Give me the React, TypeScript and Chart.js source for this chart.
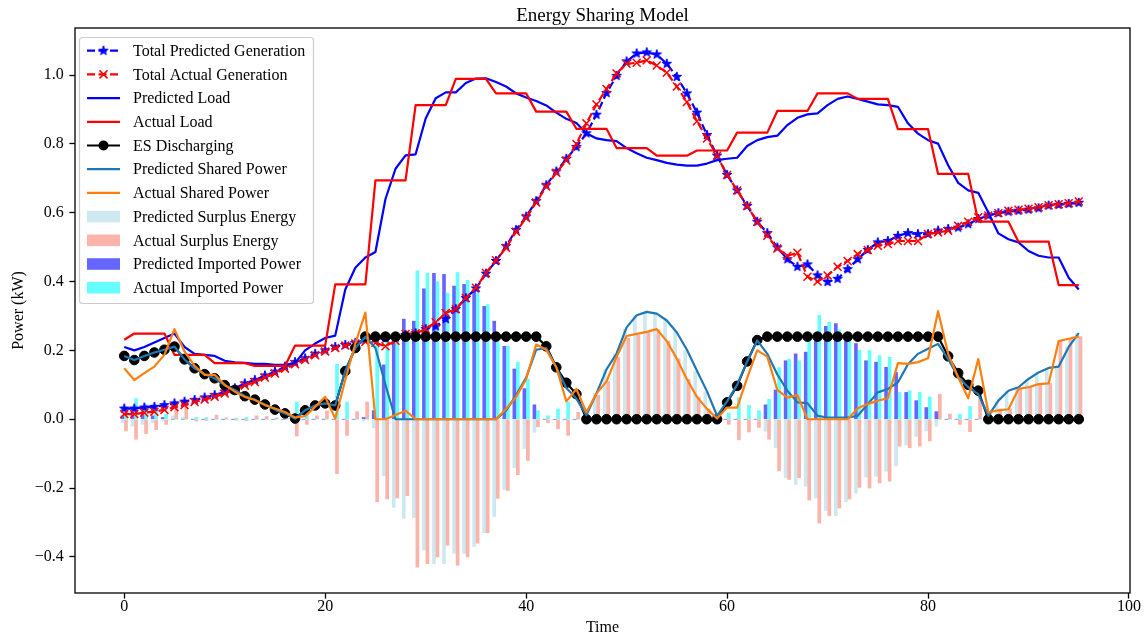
import React, { useEffect, useRef } from 'react';
import { Chart, registerables } from 'chart.js';

Chart.register(...registerables);

// ---- data -------------------------------------------------------------
const timeSteps = [
  0, 1, 2, 3, 4, 5, 6, 7, 8, 9, 10, 11, 12, 13, 14, 15, 16, 17, 18, 19, 20, 21, 22, 23,
  24, 25, 26, 27, 28, 29, 30, 31, 32, 33, 34, 35, 36, 37, 38, 39, 40, 41, 42, 43, 44, 45, 46, 47,
  48, 49, 50, 51, 52, 53, 54, 55, 56, 57, 58, 59, 60, 61, 62, 63, 64, 65, 66, 67, 68, 69, 70, 71,
  72, 73, 74, 75, 76, 77, 78, 79, 80, 81, 82, 83, 84, 85, 86, 87, 88, 89, 90, 91, 92, 93, 94, 95,
];

const totalPredictedGeneration = [
  0.031, 0.031, 0.034, 0.036, 0.041, 0.046, 0.051, 0.056, 0.063, 0.070, 0.080, 0.090,
  0.104, 0.114, 0.127, 0.138, 0.153, 0.166, 0.177, 0.190, 0.200, 0.210, 0.216, 0.222,
  0.231, 0.235, 0.235, 0.238, 0.245, 0.250, 0.262, 0.270, 0.291, 0.320, 0.352, 0.380,
  0.423, 0.460, 0.503, 0.550, 0.589, 0.634, 0.680, 0.720, 0.757, 0.791, 0.831, 0.885,
  0.948, 0.998, 1.040, 1.063, 1.066, 1.060, 1.033, 0.995, 0.947, 0.891, 0.826, 0.766,
  0.710, 0.665, 0.620, 0.574, 0.541, 0.499, 0.465, 0.443, 0.450, 0.418, 0.399, 0.408,
  0.436, 0.465, 0.492, 0.514, 0.518, 0.533, 0.541, 0.538, 0.538, 0.548, 0.553, 0.557,
  0.567, 0.582, 0.592, 0.599, 0.603, 0.606, 0.609, 0.613, 0.621, 0.623, 0.626, 0.629,
];

const totalActualGeneration = [
  0.015, 0.015, 0.019, 0.022, 0.027, 0.035, 0.041, 0.050, 0.057, 0.065, 0.075, 0.085,
  0.098, 0.108, 0.121, 0.133, 0.147, 0.160, 0.172, 0.186, 0.197, 0.207, 0.214, 0.220,
  0.225, 0.222, 0.212, 0.228, 0.248, 0.250, 0.262, 0.282, 0.309, 0.320, 0.352, 0.382,
  0.425, 0.462, 0.498, 0.545, 0.585, 0.630, 0.676, 0.716, 0.752, 0.800, 0.860, 0.915,
  0.960, 1.005, 1.033, 1.036, 1.043, 1.028, 1.007, 0.967, 0.922, 0.866, 0.816, 0.766,
  0.710, 0.665, 0.620, 0.574, 0.533, 0.496, 0.475, 0.484, 0.414, 0.400, 0.418, 0.443,
  0.460, 0.480, 0.492, 0.504, 0.509, 0.518, 0.518, 0.518, 0.538, 0.543, 0.548, 0.562,
  0.574, 0.587, 0.592, 0.599, 0.606, 0.609, 0.612, 0.616, 0.622, 0.625, 0.628, 0.633,
];

const predictedLoad = [
  0.210, 0.200, 0.210, 0.223, 0.236, 0.249, 0.210, 0.190, 0.187, 0.184, 0.170, 0.165,
  0.164, 0.161, 0.161, 0.158, 0.158, 0.163, 0.200, 0.220, 0.236, 0.243, 0.377, 0.440,
  0.470, 0.486, 0.640, 0.728, 0.767, 0.770, 0.874, 0.933, 0.950, 0.950, 0.977, 0.990,
  0.991, 0.980, 0.967, 0.947, 0.935, 0.925, 0.912, 0.891, 0.873, 0.861, 0.831, 0.816,
  0.811, 0.808, 0.788, 0.773, 0.760, 0.753, 0.745, 0.740, 0.737, 0.737, 0.743, 0.753,
  0.757, 0.760, 0.794, 0.811, 0.820, 0.824, 0.855, 0.876, 0.886, 0.889, 0.913, 0.931,
  0.938, 0.931, 0.923, 0.915, 0.913, 0.908, 0.860, 0.830, 0.811, 0.801, 0.738, 0.687,
  0.665, 0.658, 0.601, 0.540, 0.523, 0.514, 0.489, 0.475, 0.470, 0.470, 0.411, 0.377,
];

const actualLoad = [
  0.231, 0.249, 0.249, 0.249, 0.249, 0.187, 0.187, 0.187, 0.187, 0.163, 0.163, 0.163,
  0.163, 0.155, 0.155, 0.155, 0.155, 0.214, 0.214, 0.214, 0.214, 0.392, 0.392, 0.392,
  0.392, 0.694, 0.694, 0.694, 0.694, 0.913, 0.913, 0.913, 0.913, 0.989, 0.989, 0.989,
  0.989, 0.947, 0.947, 0.947, 0.947, 0.894, 0.894, 0.894, 0.894, 0.844, 0.844, 0.844,
  0.844, 0.788, 0.788, 0.788, 0.788, 0.766, 0.766, 0.766, 0.766, 0.781, 0.781, 0.781,
  0.781, 0.833, 0.833, 0.833, 0.833, 0.896, 0.896, 0.896, 0.896, 0.947, 0.947, 0.947,
  0.947, 0.931, 0.931, 0.931, 0.931, 0.843, 0.843, 0.843, 0.843, 0.713, 0.713, 0.713,
  0.713, 0.574, 0.574, 0.574, 0.574, 0.516, 0.516, 0.516, 0.516, 0.390, 0.390, 0.390,
];

const esDischarging = [
  0.184, 0.172, 0.184, 0.194, 0.202, 0.211, 0.174, 0.148, 0.131, 0.119, 0.099, 0.085,
  0.067, 0.057, 0.043, 0.028, 0.017, 0.002, 0.026, 0.040, 0.046, 0.040, 0.140, 0.207,
  0.240, 0.240, 0.240, 0.240, 0.240, 0.240, 0.240, 0.240, 0.240, 0.240, 0.240, 0.240,
  0.240, 0.240, 0.240, 0.240, 0.240, 0.240, 0.212, 0.151, 0.106, 0.073, 0.000, 0.000,
  0.000, 0.000, 0.000, 0.000, 0.000, 0.000, 0.000, 0.000, 0.000, 0.000, 0.000, 0.000,
  0.049, 0.097, 0.168, 0.230, 0.240, 0.240, 0.240, 0.240, 0.240, 0.240, 0.240, 0.240,
  0.240, 0.240, 0.240, 0.240, 0.240, 0.240, 0.240, 0.240, 0.240, 0.240, 0.183, 0.134,
  0.100, 0.083, 0.000, 0.000, 0.000, 0.000, 0.000, 0.000, 0.000, 0.000, 0.000, 0.000,
];

const predictedSharedPower = [
  0.184, 0.172, 0.184, 0.194, 0.202, 0.211, 0.174, 0.148, 0.131, 0.119, 0.099, 0.085,
  0.067, 0.057, 0.043, 0.028, 0.017, 0.002, 0.026, 0.040, 0.046, 0.040, 0.140, 0.207,
  0.240, 0.207, 0.100, 0.000, 0.000, 0.000, 0.000, 0.000, 0.000, 0.000, 0.000, 0.000,
  0.000, 0.000, 0.025, 0.070, 0.121, 0.202, 0.207, 0.151, 0.091, 0.060, 0.012, 0.075,
  0.145, 0.191, 0.267, 0.302, 0.312, 0.307, 0.287, 0.252, 0.202, 0.141, 0.081, 0.010,
  0.052, 0.100, 0.168, 0.229, 0.190, 0.130, 0.083, 0.049, 0.047, 0.010, 0.005, 0.005,
  0.005, 0.010, 0.044, 0.078, 0.088, 0.107, 0.160, 0.190, 0.205, 0.219, 0.175, 0.122,
  0.093, 0.073, 0.010, 0.054, 0.083, 0.093, 0.117, 0.136, 0.149, 0.153, 0.210, 0.250,
];

const actualSharedPower = [
  0.148, 0.114, 0.134, 0.153, 0.187, 0.262, 0.197, 0.155, 0.129, 0.129, 0.100, 0.080,
  0.065, 0.056, 0.041, 0.031, 0.021, 0.005, 0.009, 0.036, 0.065, 0.002, 0.114, 0.220,
  0.310, 0.000, 0.000, 0.012, 0.025, 0.000, 0.000, 0.000, 0.000, 0.000, 0.000, 0.000,
  0.000, 0.000, 0.030, 0.065, 0.116, 0.217, 0.202, 0.151, 0.052, 0.088, 0.020, 0.075,
  0.110, 0.181, 0.242, 0.248, 0.254, 0.262, 0.227, 0.176, 0.116, 0.065, 0.030, 0.002,
  0.034, 0.034, 0.120, 0.200, 0.182, 0.085, 0.063, 0.070, 0.000, 0.000, 0.000, 0.000,
  0.000, 0.032, 0.044, 0.054, 0.061, 0.163, 0.161, 0.166, 0.177, 0.314, 0.190, 0.122,
  0.061, 0.175, 0.020, 0.026, 0.029, 0.088, 0.093, 0.102, 0.104, 0.227, 0.234, 0.240,
];

const predictedSurplusEnergy = [
  -0.010, -0.020, -0.015, -0.010, -0.005, 0.010, 0.005, 0.000, 0.000, 0.000, 0.000, 0.000,
  0.000, 0.000, 0.000, 0.000, 0.000, -0.005, 0.000, 0.000, 0.000, 0.000, 0.000, 0.000,
  -0.005, -0.025, -0.164, -0.256, -0.288, -0.286, -0.380, -0.420, -0.420, -0.390, -0.390, -0.370,
  -0.330, -0.283, -0.205, -0.141, -0.085, -0.038, 0.000, 0.000, 0.000, 0.000, 0.010, 0.075,
  0.145, 0.190, 0.262, 0.300, 0.310, 0.305, 0.287, 0.252, 0.200, 0.140, 0.080, 0.010,
  0.000, 0.000, 0.000, 0.000, -0.035, -0.083, -0.170, -0.190, -0.195, -0.229, -0.265, -0.280,
  -0.240, -0.215, -0.168, -0.166, -0.151, -0.136, -0.075, -0.050, -0.034, -0.020, 0.000, 0.000,
  0.000, 0.000, 0.040, 0.050, 0.080, 0.090, 0.115, 0.135, 0.148, 0.153, 0.210, 0.250,
];

const actualSurplusEnergy = [
  -0.034, -0.058, -0.042, -0.030, -0.015, 0.050, 0.035, -0.005, -0.004, 0.012, 0.004, -0.003,
  -0.004, 0.010, 0.008, 0.004, 0.003, -0.049, -0.015, 0.010, 0.024, -0.158, -0.047, 0.022,
  0.050, -0.240, -0.232, -0.229, -0.222, -0.430, -0.420, -0.400, -0.366, -0.424, -0.400, -0.360,
  -0.330, -0.230, -0.207, -0.161, -0.120, -0.022, -0.010, -0.028, -0.047, 0.020, 0.000, 0.070,
  0.110, 0.180, 0.235, 0.245, 0.252, 0.260, 0.227, 0.176, 0.116, 0.065, 0.030, 0.000,
  -0.015, -0.060, -0.037, -0.024, -0.058, -0.150, -0.175, -0.170, -0.235, -0.302, -0.280, -0.258,
  -0.232, -0.198, -0.200, -0.185, -0.180, -0.078, -0.083, -0.078, -0.063, 0.073, 0.015, -0.015,
  -0.036, 0.070, 0.020, 0.030, 0.030, 0.088, 0.093, 0.100, 0.104, 0.227, 0.234, 0.240,
];

const predictedImportedPower = [
  0.010, 0.020, 0.015, 0.010, 0.005, 0.000, 0.000, 0.000, 0.000, 0.000, 0.000, 0.000,
  0.000, 0.000, 0.000, 0.000, 0.000, 0.005, 0.000, 0.000, 0.000, 0.000, 0.000, 0.000,
  0.005, 0.025, 0.158, 0.250, 0.291, 0.285, 0.379, 0.424, 0.421, 0.387, 0.392, 0.377,
  0.328, 0.285, 0.212, 0.146, 0.089, 0.042, 0.000, 0.000, 0.000, 0.000, 0.000, 0.000,
  0.000, 0.000, 0.000, 0.000, 0.000, 0.000, 0.000, 0.000, 0.000, 0.000, 0.000, 0.000,
  0.000, 0.000, 0.000, 0.000, 0.042, 0.085, 0.170, 0.190, 0.195, 0.230, 0.270, 0.278,
  0.245, 0.220, 0.170, 0.166, 0.151, 0.136, 0.078, 0.054, 0.034, 0.022, 0.000, 0.000,
  0.000, 0.000, 0.000, 0.000, 0.000, 0.000, 0.000, 0.000, 0.000, 0.000, 0.000, 0.000,
];

const actualImportedPower = [
  0.034, 0.060, 0.042, 0.030, 0.015, 0.000, 0.000, 0.005, 0.005, 0.000, 0.000, 0.003,
  0.005, 0.000, 0.000, 0.000, 0.000, 0.050, 0.015, 0.000, 0.000, 0.160, 0.050, 0.000,
  0.000, 0.240, 0.232, 0.229, 0.236, 0.431, 0.424, 0.400, 0.367, 0.426, 0.404, 0.365,
  0.333, 0.225, 0.212, 0.166, 0.116, 0.025, 0.010, 0.030, 0.050, 0.000, 0.000, 0.000,
  0.000, 0.000, 0.000, 0.000, 0.000, 0.000, 0.000, 0.000, 0.000, 0.000, 0.000, 0.000,
  0.018, 0.063, 0.040, 0.025, 0.058, 0.150, 0.175, 0.170, 0.235, 0.302, 0.282, 0.260,
  0.235, 0.200, 0.200, 0.185, 0.180, 0.078, 0.083, 0.078, 0.065, 0.000, 0.000, 0.015,
  0.037, 0.000, 0.000, 0.000, 0.000, 0.000, 0.000, 0.000, 0.000, 0.000, 0.000, 0.000,
];

const xTickValues = [0, 20, 40, 60, 80, 100];
const yTickValues = [-0.4, -0.2, 0.0, 0.2, 0.4, 0.6, 0.8, 1.0];

// ---- styling ----------------------------------------------------------
const FONT = '"Liberation Serif", "Times New Roman", Times, serif';
const WIDTH = 1146;
const HEIGHT = 637;
const LINE_W = 2.2;
const DASH = [8, 3.5];
const BAR_SHIFT = 0.175; // predicted bars sit left of the step, actual bars right
const BAR_PX = 3;

const C_BLUE = '#0000ff';
const C_RED = '#ff0000';
const C_TAB_BLUE = '#1f77b4';
const C_TAB_ORANGE = '#ff7f0e';
const C_PRED_SURPLUS = 'rgba(173,216,230,0.6)';
const C_ACT_SURPLUS = 'rgba(250,128,114,0.6)';
const C_PRED_IMPORT = 'rgba(0,0,255,0.6)';
const C_ACT_IMPORT = 'rgba(0,255,255,0.6)';

function makeStarMarker(color: string): HTMLCanvasElement {
  const size = 14;
  const c = document.createElement('canvas');
  c.width = size;
  c.height = size;
  const g = c.getContext('2d')!;
  const cx = size / 2;
  const cy = size / 2;
  const outer = 5;
  const inner = outer * 0.381966;
  g.beginPath();
  for (let i = 0; i < 10; i++) {
    const a = -Math.PI / 2 + (i * Math.PI) / 5;
    const r = i % 2 === 0 ? outer : inner;
    const px = cx + r * Math.cos(a);
    const py = cy + r * Math.sin(a);
    if (i === 0) g.moveTo(px, py);
    else g.lineTo(px, py);
  }
  g.closePath();
  g.fillStyle = color;
  g.fill();
  g.lineWidth = 1;
  g.strokeStyle = color;
  g.stroke();
  return c;
}

type LegendRow = {
  label: string;
  kind: 'line' | 'patch';
  color: string;
  dashed?: boolean;
  marker?: 'star' | 'x' | 'dot';
};

const legendRows: LegendRow[] = [
  { label: 'Total Predicted Generation', kind: 'line', color: C_BLUE, dashed: true, marker: 'star' },
  { label: 'Total Actual Generation', kind: 'line', color: C_RED, dashed: true, marker: 'x' },
  { label: 'Predicted Load', kind: 'line', color: C_BLUE },
  { label: 'Actual Load', kind: 'line', color: C_RED },
  { label: 'ES Discharging', kind: 'line', color: '#000000', marker: 'dot' },
  { label: 'Predicted Shared Power', kind: 'line', color: C_TAB_BLUE },
  { label: 'Actual Shared Power', kind: 'line', color: C_TAB_ORANGE },
  { label: 'Predicted Surplus Energy', kind: 'patch', color: C_PRED_SURPLUS },
  { label: 'Actual Surplus Energy', kind: 'patch', color: C_ACT_SURPLUS },
  { label: 'Predicted Imported Power', kind: 'patch', color: C_PRED_IMPORT },
  { label: 'Actual Imported Power', kind: 'patch', color: C_ACT_IMPORT },
];

const formatY = (v: number) => {
  const s = Math.abs(v).toFixed(1);
  return v < -1e-9 ? '\u2212' + s : s;
};

export default function App() {
  const canvasRef = useRef<HTMLCanvasElement>(null);

  useEffect(() => {
    const canvas = canvasRef.current;
    if (!canvas) return;
    const star = makeStarMarker(C_BLUE);

    const pts = (ys: number[], dx = 0) => timeSteps.map((t, i) => ({ x: t + dx, y: ys[i] }));

    const lineDs = (label: string, ys: number[], color: string, order: number, extra: any = {}) => ({
      type: 'line' as const,
      label,
      data: pts(ys),
      borderColor: color,
      backgroundColor: color,
      borderWidth: LINE_W,
      borderJoinStyle: 'round' as const,
      pointRadius: 0,
      tension: 0,
      fill: false,
      order,
      ...extra,
    });

    const barDs = (label: string, ys: number[], color: string, dx: number, order: number) => ({
      type: 'bar' as const,
      label,
      data: pts(ys, dx),
      backgroundColor: color,
      borderWidth: 0,
      barThickness: BAR_PX,
      grouped: false,
      order,
    });

    const decor = {
      id: 'decor',
      afterDatasetsDraw(chart: any) {
        const { ctx, chartArea: a } = chart;
        ctx.save();
        ctx.strokeStyle = '#000';
        ctx.lineWidth = 1.3;
        ctx.strokeRect(a.left, a.top, a.right - a.left, a.bottom - a.top);
        ctx.restore();
      },
      afterDraw(chart: any) {
        const { ctx, chartArea: a } = chart;
        const cx = (a.left + a.right) / 2;
        ctx.save();
        ctx.fillStyle = '#000';

        // title and axis titles
        ctx.font = `19px ${FONT}`;
        ctx.textAlign = 'center';
        ctx.textBaseline = 'alphabetic';
        ctx.fillText('Energy Sharing Model', cx, 21);

        ctx.font = `16px ${FONT}`;
        ctx.fillText('Time', cx, 632);

        ctx.save();
        ctx.translate(23, (a.top + a.bottom) / 2);
        ctx.rotate(-Math.PI / 2);
        ctx.fillText('Power (kW)', 0, 0);
        ctx.restore();

        // legend box
        const bx = 79.5;
        const by = 37.5;
        const bw = 234;
        const bh = 266;
        const r = 3;
        ctx.beginPath();
        ctx.moveTo(bx + r, by);
        ctx.lineTo(bx + bw - r, by);
        ctx.arcTo(bx + bw, by, bx + bw, by + r, r);
        ctx.lineTo(bx + bw, by + bh - r);
        ctx.arcTo(bx + bw, by + bh, bx + bw - r, by + bh, r);
        ctx.lineTo(bx + r, by + bh);
        ctx.arcTo(bx, by + bh, bx, by + bh - r, r);
        ctx.lineTo(bx, by + r);
        ctx.arcTo(bx, by, bx + r, by, r);
        ctx.closePath();
        ctx.fillStyle = 'rgba(255,255,255,0.8)';
        ctx.fill();
        ctx.strokeStyle = '#cccccc';
        ctx.lineWidth = 1.2;
        ctx.stroke();

        const hx0 = 87;
        const hx1 = 120;
        const hxc = (hx0 + hx1) / 2;
        const textX = 133;
        legendRows.forEach((row, i) => {
          const y = 50.7 + i * 23.7;
          if (row.kind === 'patch') {
            ctx.fillStyle = row.color;
            ctx.fillRect(hx0, y - 5.8, hx1 - hx0, 11.6);
          } else {
            ctx.strokeStyle = row.color;
            ctx.lineWidth = LINE_W;
            ctx.setLineDash(row.dashed ? DASH : []);
            ctx.beginPath();
            ctx.moveTo(hx0, y);
            ctx.lineTo(hx1, y);
            ctx.stroke();
            ctx.setLineDash([]);
            if (row.marker === 'star') {
              ctx.drawImage(star, hxc - star.width / 2, y - star.height / 2);
            } else if (row.marker === 'x') {
              ctx.lineWidth = 1.5;
              ctx.beginPath();
              ctx.moveTo(hxc - 4, y - 4);
              ctx.lineTo(hxc + 4, y + 4);
              ctx.moveTo(hxc - 4, y + 4);
              ctx.lineTo(hxc + 4, y - 4);
              ctx.stroke();
            } else if (row.marker === 'dot') {
              ctx.fillStyle = row.color;
              ctx.beginPath();
              ctx.arc(hxc, y, 5, 0, Math.PI * 2);
              ctx.fill();
            }
          }
          ctx.fillStyle = '#000';
          ctx.font = `16px ${FONT}`;
          ctx.textAlign = 'left';
          ctx.textBaseline = 'middle';
          ctx.fillText(row.label, textX, y + 1);
        });
        ctx.restore();
      },
    };

    const tickFont = { family: FONT, size: 16 };

    const chart = new Chart(canvas, {
      type: 'line',
      data: {
        datasets: [
          lineDs('Total Predicted Generation', totalPredictedGeneration, C_BLUE, 7, {
            borderDash: DASH,
            pointStyle: star,
            pointRadius: 5,
          }),
          lineDs('Total Actual Generation', totalActualGeneration, C_RED, 6, {
            borderDash: DASH,
            pointStyle: 'crossRot',
            pointRadius: 5.6,
            pointBorderWidth: 1.5,
            pointBorderColor: C_RED,
          }),
          lineDs('Predicted Load', predictedLoad, C_BLUE, 5),
          lineDs('Actual Load', actualLoad, C_RED, 4),
          lineDs('ES Discharging', esDischarging, '#000000', 3, {
            pointStyle: 'circle',
            pointRadius: 4.8,
            pointBorderWidth: 1,
            pointBackgroundColor: '#000000',
            pointBorderColor: '#000000',
          }),
          lineDs('Predicted Shared Power', predictedSharedPower, C_TAB_BLUE, 2),
          lineDs('Actual Shared Power', actualSharedPower, C_TAB_ORANGE, 1),
          barDs('Predicted Surplus Energy', predictedSurplusEnergy, C_PRED_SURPLUS, -BAR_SHIFT, 14),
          barDs('Actual Surplus Energy', actualSurplusEnergy, C_ACT_SURPLUS, BAR_SHIFT, 13),
          barDs('Predicted Imported Power', predictedImportedPower, C_PRED_IMPORT, -BAR_SHIFT, 12),
          barDs('Actual Imported Power', actualImportedPower, C_ACT_IMPORT, BAR_SHIFT, 11),
        ] as any,
      },
      options: {
        animation: false,
        responsive: false,
        devicePixelRatio: 1,
        events: [],
        layout: { padding: { left: 0, top: 28, right: 16, bottom: 0 } },
        plugins: {
          legend: { display: false },
          tooltip: { enabled: false },
          title: { display: false },
        },
        scales: {
          x: {
            type: 'linear',
            min: -4.9,
            max: 100.1,
            offset: false,
            afterBuildTicks: (s: any) => {
              s.ticks = xTickValues.map((v) => ({ value: v }));
            },
            afterFit: (s: any) => {
              s.height = HEIGHT - 593;
            },
            ticks: {
              font: tickFont,
              color: '#000',
              padding: -1,
              autoSkip: false,
              maxRotation: 0,
              callback: (v: any) => String(v),
            },
            grid: {
              display: true,
              offset: false,
              drawOnChartArea: false,
              drawTicks: true,
              tickLength: 5.6,
              tickWidth: 1.3,
              tickColor: '#000',
              color: '#000',
            },
            border: { display: false },
          },
          y: {
            type: 'linear',
            min: -0.505,
            max: 1.137,
            afterBuildTicks: (s: any) => {
              s.ticks = yTickValues.map((v) => ({ value: v }));
            },
            afterFit: (s: any) => {
              s.width = 75;
            },
            ticks: {
              font: tickFont,
              color: '#000',
              padding: 5.6,
              autoSkip: false,
              callback: (v: any) => formatY(Number(v)),
            },
            grid: {
              display: true,
              offset: false,
              drawOnChartArea: false,
              drawTicks: true,
              tickLength: 5.6,
              tickWidth: 1.3,
              tickColor: '#000',
              color: '#000',
            },
            border: { display: false },
          },
        },
      } as any,
      plugins: [decor],
    });

    return () => chart.destroy();
  }, []);

  return (
    <div style={{ position: 'fixed', left: 0, top: 0, width: WIDTH, height: HEIGHT, background: '#fff' }}>
      <canvas ref={canvasRef} width={WIDTH} height={HEIGHT} style={{ display: 'block' }} />
    </div>
  );
}
